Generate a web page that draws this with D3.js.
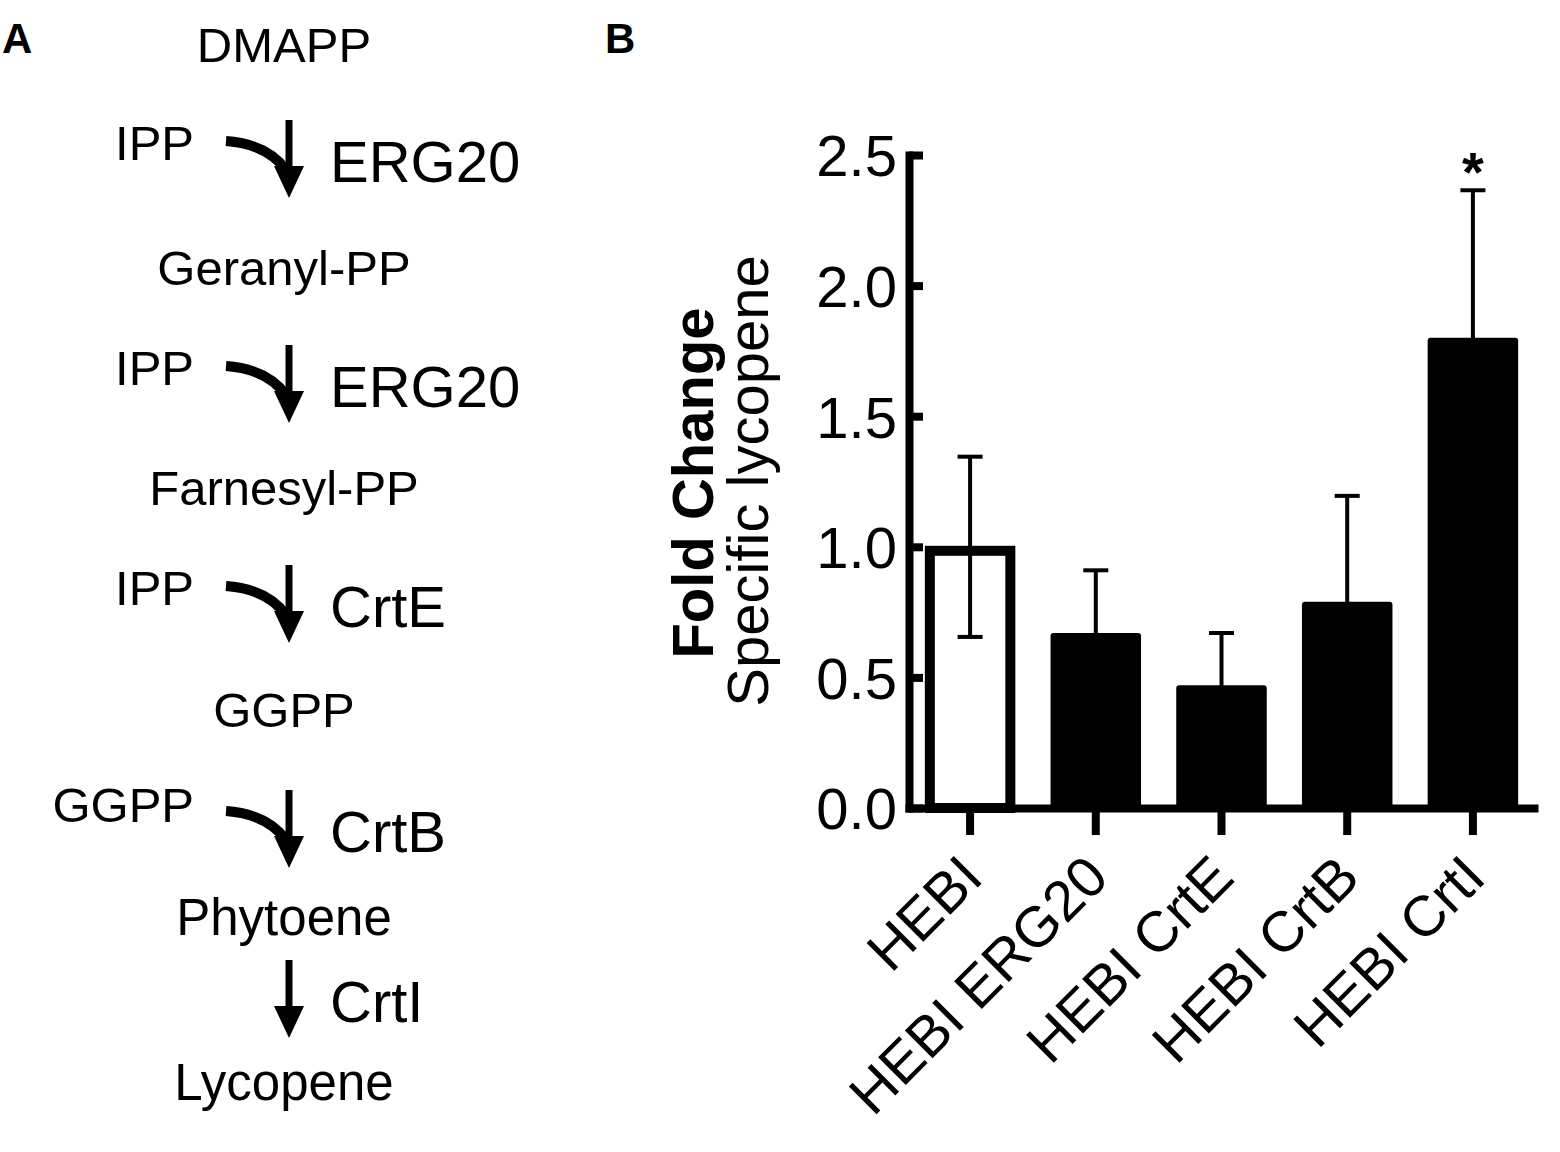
<!DOCTYPE html>
<html lang="en">
<head>
    <meta charset="UTF-8">
    <script src="https://d3js.org/d3.v7.min.js"></script>
    <title>Lycopene pathway and fold change</title>
    <style>
        body { margin: 0; background: #fff; }
        text { font-family: "Liberation Sans", Arial, sans-serif; fill: #000; }
    </style>
</head>
<body>
    <div id="my_dataviz"></div>
<script>
    // ---- data ----
    const metabolites = ["DMAPP", "Geranyl-PP", "Farnesyl-PP", "GGPP", "Phytoene", "Lycopene"];
    const substrates  = ["IPP", "IPP", "IPP", "GGPP", ""];
    const enzymes     = ["ERG20", "ERG20", "CrtE", "CrtB", "CrtI"];

    const strains   = ["HEBI", "HEBI ERG20", "HEBI CrtE", "HEBI CrtB", "HEBI CrtI"];
    const foldMean  = [1.00, 0.67, 0.47, 0.79, 1.80];
    const foldSem   = [0.345, 0.24, 0.20, 0.405, 0.565];
    const signif    = ["", "", "", "", "*"];
    const yTicks    = [0, 0.5, 1.0, 1.5, 2.0, 2.5];

    // ---- layout for panel A (pixel rows) ----
    const metY   = [62, 285, 505, 727, 935, 1100];
    const metSize = [49, 49, 49, 49, 51, 51];
    const arrowY = [120, 345, 565, 790, 960];
    const arrowLen = 78, arrowX = 289;

    const svg = d3.select("#my_dataviz").append("svg")
        .attr("width", 1560)
        .attr("height", 1152);

    // panel letters
    svg.append("text").attr("x", 2).attr("y", 53)
       .style("font-size", "42px").style("font-weight", "bold").text("A");
    svg.append("text").attr("x", 605).attr("y", 53)
       .style("font-size", "42px").style("font-weight", "bold").text("B");

    // ---- panel A: pathway ----
    const pa = svg.append("g");

    pa.selectAll(".met").data(metabolites).enter()
      .append("text")
      .attr("class", "met")
      .attr("x", 284)
      .attr("y", (d, i) => metY[i])
      .attr("text-anchor", "middle")
      .style("font-size", (d, i) => metSize[i] + "px")
      .text(d => d);

    const steps = enzymes.map((e, i) => ({enzyme: e, substrate: substrates[i], top: arrowY[i]}));

    const step = pa.selectAll(".step").data(steps).enter()
      .append("g").attr("class", "step")
      .attr("transform", d => "translate(" + arrowX + "," + d.top + ")");

    // shaft
    step.append("line")
        .attr("x1", 0).attr("x2", 0)
        .attr("y1", 0).attr("y2", arrowLen - 28)
        .attr("stroke", "#000").attr("stroke-width", 7);
    // head
    step.append("path")
        .attr("d", "M-15," + (arrowLen - 32) + "L15," + (arrowLen - 32) + "L0," + arrowLen + "Z")
        .attr("fill", "#000");
    // curved side arrow for the co-substrate
    step.filter(d => d.substrate !== "")
        .append("path")
        .attr("d", "M-63,21Q-22,24 -3,50")
        .attr("fill", "none").attr("stroke", "#000").attr("stroke-width", 10);

    step.filter(d => d.substrate !== "")
        .append("text")
        .attr("x", -95)
        .attr("y", d => d.substrate === "GGPP" ? 32 : 40)
        .attr("text-anchor", "end")
        .style("font-size", "49px")
        .text(d => d.substrate);

    step.append("text")
        .attr("x", 41)
        .attr("y", 62)
        .style("font-size", "58px")
        .text(d => d.enzyme);

    // ---- panel B: bar chart ----
    const x0 = 909, yBase = 808, yTop = 155;

    const x = d3.scaleBand()
        .domain(strains)
        .range([x0, 1534])
        .paddingInner(0.28)
        .paddingOuter(0.126);

    const y = d3.scaleLinear().domain([0, 2.5]).range([yBase, yTop]);

    const pb = svg.append("g");

    // bars
    pb.selectAll(".bar").data(strains).enter()
      .append("rect")
      .attr("class", "bar")
      .attr("x", (d, i) => i === 0 ? x(d) + 5 : x(d))
      .attr("width", (d, i) => i === 0 ? x.bandwidth() - 10 : x.bandwidth())
      .attr("y", (d, i) => i === 0 ? y(foldMean[i]) + 4 : y(foldMean[i]))
      .attr("height", (d, i) => yBase - y(foldMean[i]) - (i === 0 ? 4 : 0))
      .attr("rx", (d, i) => i === 0 ? 0 : 3)
      .attr("fill", (d, i) => i === 0 ? "#fff" : "#000")
      .attr("stroke", "#000")
      .attr("stroke-width", (d, i) => i === 0 ? 10 : 0);

    // error bars
    const cx = d => x(d) + x.bandwidth() / 2;
    const eb = pb.selectAll(".err").data(strains).enter().append("g").attr("class", "err");
    eb.append("line")
      .attr("x1", cx).attr("x2", cx)
      .attr("y1", (d, i) => y(foldMean[i] - foldSem[i]))
      .attr("y2", (d, i) => y(foldMean[i] + foldSem[i]))
      .attr("stroke", "#000").attr("stroke-width", 4);
    eb.append("line")
      .attr("x1", d => cx(d) - 12.5).attr("x2", d => cx(d) + 12.5)
      .attr("y1", (d, i) => y(foldMean[i] + foldSem[i]))
      .attr("y2", (d, i) => y(foldMean[i] + foldSem[i]))
      .attr("stroke", "#000").attr("stroke-width", 4);
    eb.append("line")
      .attr("x1", d => cx(d) - 12.5).attr("x2", d => cx(d) + 12.5)
      .attr("y1", (d, i) => y(foldMean[i] - foldSem[i]))
      .attr("y2", (d, i) => y(foldMean[i] - foldSem[i]))
      .attr("stroke", "#000").attr("stroke-width", 4);

    // significance marks
    pb.selectAll(".sig").data(strains).enter()
      .append("text")
      .attr("class", "sig")
      .attr("x", cx)
      .attr("y", (d, i) => y(foldMean[i] + foldSem[i]) + 1)
      .attr("text-anchor", "middle")
      .style("font-size", "56px")
      .style("font-weight", "bold")
      .text((d, i) => signif[i]);

    // Y axis (ticks point inward like the original)
    const gy = pb.append("g")
      .attr("transform", "translate(" + x0 + ",0)")
      .call(d3.axisLeft(y).tickValues(yTicks).tickFormat(d3.format(".1f"))
              .tickSizeInner(-14).tickSizeOuter(0).tickPadding(12));
    gy.select(".domain").attr("stroke-width", 8).attr("stroke-linecap", "square");
    gy.selectAll(".tick line").attr("stroke-width", 8);
    gy.selectAll(".tick text")
      .style("font-size", "58px")
      .attr("dy", "0.36em");

    // X axis
    const gx = pb.append("g")
      .attr("transform", "translate(0," + yBase + ")")
      .call(d3.axisBottom(x).tickSizeInner(27).tickSizeOuter(0));
    gx.select(".domain").attr("stroke-width", 8).attr("stroke-linecap", "square");
    gx.selectAll(".tick line").attr("stroke-width", 8);
    gx.selectAll(".tick text")
      .style("font-size", "57px")
      .attr("text-anchor", "end")
      .attr("dy", null)
      .attr("y", 0)
      .attr("transform", "translate(15,72) rotate(-45)");

    // Y axis titles
    svg.append("text")
      .attr("transform", "translate(713,483) rotate(-90)")
      .attr("text-anchor", "middle")
      .style("font-size", "58px")
      .style("font-weight", "bold")
      .text("Fold Change");
    svg.append("text")
      .attr("transform", "translate(768,481) rotate(-90)")
      .attr("text-anchor", "middle")
      .style("font-size", "58px")
      .text("Specific lycopene");
</script>
</body>
</html>
